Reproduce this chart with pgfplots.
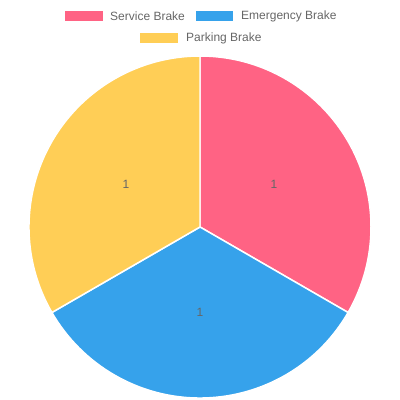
\documentclass[border=0pt]{standalone}
\usepackage{pgfplots}
\usepackage{pgfplotstable}
\pgfplotsset{compat=1.18}
\usepackage{fontspec}
\setmainfont{Liberation Sans}
\definecolor{srv}{RGB}{255,99,132}
\definecolor{emg}{RGB}{54,162,235}
\definecolor{prk}{RGB}{255,206,86}
\definecolor{txt}{RGB}{102,102,102}

\pgfplotstableread{
label value
{Service Brake} 1
{Emergency Brake} 1
{Parking Brake} 1
}\piedata

\begin{document}
\begin{tikzpicture}
\pgfplotstablegetelem{0}{value}\of\piedata \edef\rA{\pgfplotsretval}
\pgfplotstablegetelem{1}{value}\of\piedata \edef\rB{\pgfplotsretval}
\pgfplotstablegetelem{2}{value}\of\piedata \edef\rC{\pgfplotsretval}
\pgfmathsetmacro\tot{\rA+\rB+\rC}
\pgfmathsetmacro\aA{90}
\pgfmathsetmacro\aB{\aA-360*\rA/\tot}
\pgfmathsetmacro\aC{\aB-360*\rB/\tot}
\pgfmathsetmacro\aD{\aC-360*\rC/\tot}
\pgfmathsetmacro\mA{(\aA+\aB)/2}
\pgfmathsetmacro\mB{(\aB+\aC)/2}
\pgfmathsetmacro\mC{(\aC+\aD)/2}
\begin{axis}[hide axis, scale only axis, width=400bp, height=400bp,
  xmin=0, xmax=400, ymin=0, ymax=400, clip=false]
\def\cx{200}\def\cy{173}\def\R{171}
\filldraw[fill=srv, draw=white, line width=1.5pt, line join=round]
  (axis cs:\cx,\cy) -- (axis cs:{\cx+\R*cos(\aA)},{\cy+\R*sin(\aA)})
  arc[start angle=\aA, end angle=\aB, radius=\R] -- cycle;
\filldraw[fill=emg, draw=white, line width=1.5pt, line join=round]
  (axis cs:\cx,\cy) -- (axis cs:{\cx+\R*cos(\aB)},{\cy+\R*sin(\aB)})
  arc[start angle=\aB, end angle=\aC, radius=\R] -- cycle;
\filldraw[fill=prk, draw=white, line width=1.5pt, line join=round]
  (axis cs:\cx,\cy) -- (axis cs:{\cx+\R*cos(\aC)},{\cy+\R*sin(\aC)})
  arc[start angle=\aC, end angle=\aD, radius=\R] -- cycle;
\node[text=txt, font=\fontsize{12bp}{14bp}\selectfont] at (axis cs:{\cx+\R/2*cos(\mA)},{\cy+\R/2*sin(\mA)}) {\rA};
\node[text=txt, font=\fontsize{12bp}{14bp}\selectfont] at (axis cs:{\cx+\R/2*cos(\mB)},{\cy+\R/2*sin(\mB)}) {\rB};
\node[text=txt, font=\fontsize{12bp}{14bp}\selectfont] at (axis cs:{\cx+\R/2*cos(\mC)},{\cy+\R/2*sin(\mC)}) {\rC};
% legend
\fill[srv] (axis cs:65,379) rectangle (axis cs:103,389);
\node[anchor=west, inner sep=0pt, text=txt, font=\fontsize{12bp}{14bp}\selectfont] at (axis cs:110,384) {Service Brake};
\fill[emg] (axis cs:196,379) rectangle (axis cs:233,389);
\node[anchor=west, inner sep=0pt, text=txt, font=\fontsize{12bp}{14bp}\selectfont] at (axis cs:241,384) {Emergency Brake};
\fill[prk] (axis cs:140,357) rectangle (axis cs:178,367);
\node[anchor=west, inner sep=0pt, text=txt, font=\fontsize{12bp}{14bp}\selectfont] at (axis cs:186,362) {Parking Brake};
\end{axis}
\pgfresetboundingbox
\path[use as bounding box] (current axis.south west) rectangle (current axis.north east);
\end{tikzpicture}
\end{document}
